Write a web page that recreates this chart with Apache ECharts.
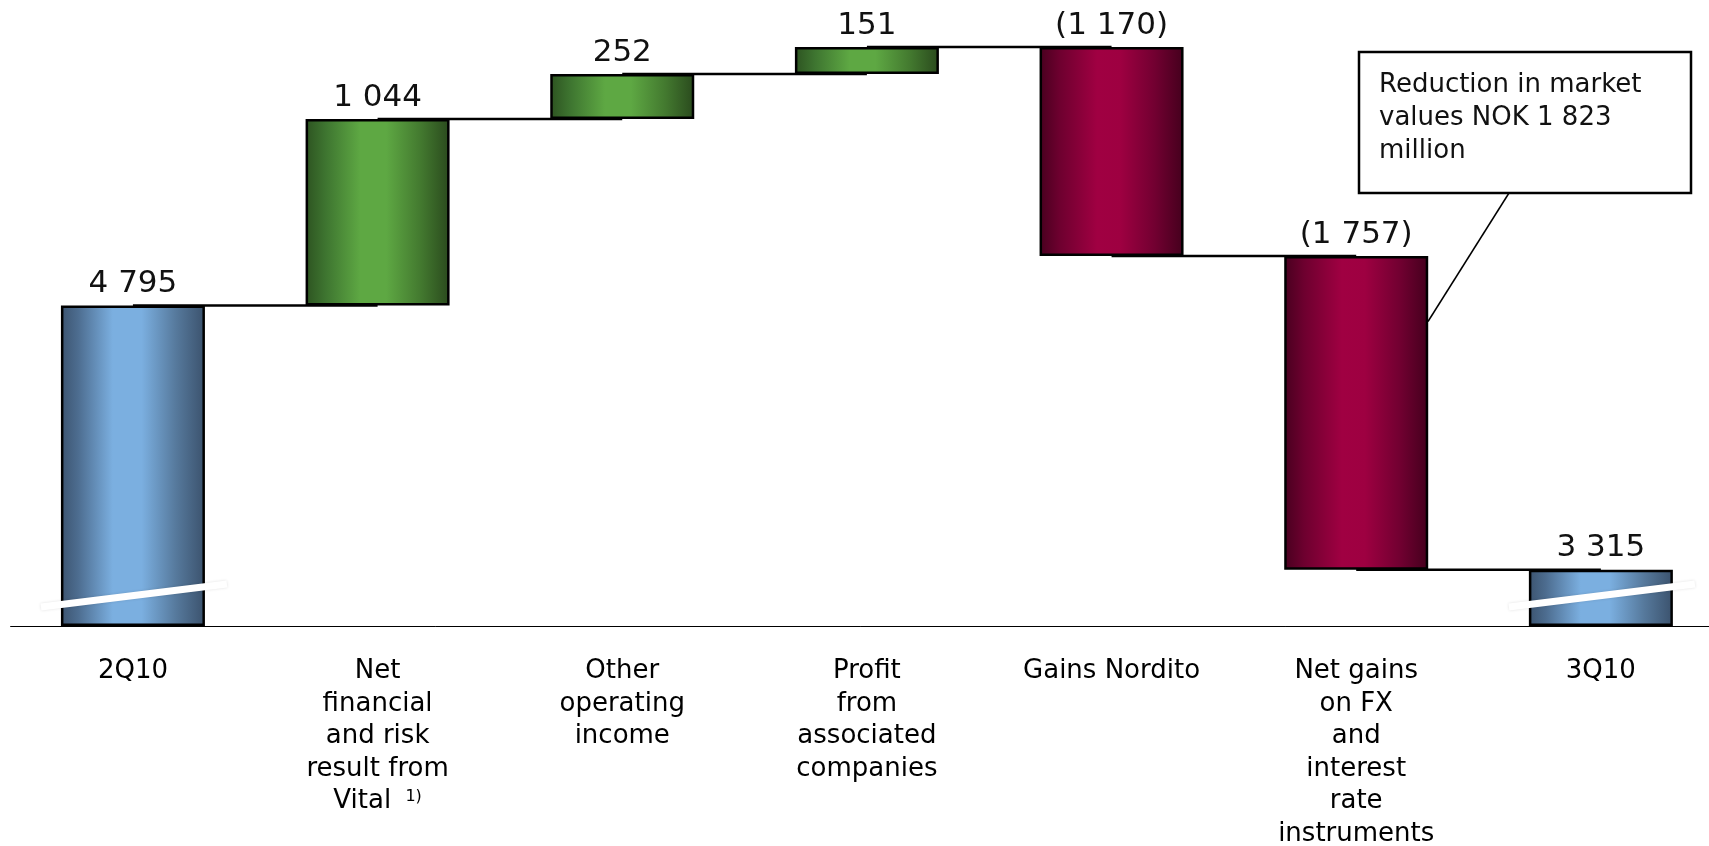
<!DOCTYPE html>
<html>
<head>
<meta charset="utf-8">
<script src="https://cdn.jsdelivr.net/npm/echarts@6/dist/echarts.min.js"></script>
<style>
html,body{margin:0;padding:0;background:#fff;}
#chart{width:1709px;height:846px;}
</style>
</head>
<body>
<div id="chart"></div>
<script>
// ---- data ----
const categories = ['2Q10', 'Net\nfinancial\nand risk\nresult from\nVital {sup|1)}', 'Other\noperating\nincome', 'Profit\nfrom\nassociated\ncompanies', 'Gains Nordito', 'Net gains\non FX\nand\ninterest\nrate\ninstruments', '3Q10'];
const deltas = [4795, 1044, 252, 151, -1170, -1757, 3315];
const kinds = ['total', 'up', 'up', 'up', 'down', 'down', 'total'];
const noteLines = ['Reduction in market', 'values NOK 1 823', 'million'];

// ---- layout / style constants ----
const Y_MIN = 3000, Y_MAX = 6500;
const BAR_W = 144;
const FONT = 'DejaVu Sans, Verdana, sans-serif';

function grad(stops) {
  return { type: 'linear', x: 0, y: 0, x2: 1, y2: 0, colorStops: stops.map(s => ({ offset: s[0], color: s[1] })) };
}
const fills = {
  total: grad([[0, '#3c5470'], [0.12, '#4d6d90'], [0.36, '#7bafe0'], [0.56, '#7bafe0'], [0.8, '#56799c'], [1, '#3b526d']]),
  up: grad([[0, '#2d5321'], [0.14, '#3e7530'], [0.38, '#5ea843'], [0.56, '#5ea843'], [0.8, '#43792f'], [1, '#2a4a1d']]),
  down: grad([[0, '#48001f'], [0.14, '#6e002f'], [0.4, '#a00042'], [0.56, '#9e0041'], [0.8, '#720031'], [1, '#44001d']])
};

// derived waterfall geometry (from values)
const low = [], high = [], levels = [];
let run = 0;
deltas.forEach((d, i) => {
  if (kinds[i] === 'total') {
    run = d; low.push(Y_MIN); high.push(d);
  } else {
    const next = run + d;
    low.push(Math.min(run, next)); high.push(Math.max(run, next));
    run = next;
  }
  levels.push(run);
});
const baseData = low;
const visData = deltas.map((d, i) => ({ value: high[i] - low[i], itemStyle: { color: fills[kinds[i]] } }));

function fmt(v) {
  const s = String(Math.abs(v)).replace(/\B(?=(\d{3})+(?!\d))/g, ' ');
  return v < 0 ? '(' + s + ')' : s;
}

const chart = echarts.init(document.getElementById('chart'), null, { renderer: 'canvas' });
const option = {
  animation: false,
  backgroundColor: '#fff',
  grid: { left: 10.6, width: 1712.6, top: 1, bottom: 220, containLabel: false, outerBoundsMode: 'none' },
  xAxis: {
    type: 'category',
    data: categories,
    axisLine: { lineStyle: { color: '#000', width: 1 } },
    axisTick: { show: false },
    axisLabel: {
      interval: 0, margin: 29, color: '#000', fontFamily: FONT, fontSize: 26, lineHeight: 32.6,
      rich: { sup: { fontSize: 16, fontFamily: FONT, color: '#000', lineHeight: 32.6, padding: [0, 0, 10, 6] } }
    }
  },
  yAxis: { type: 'value', min: Y_MIN, max: Y_MAX, show: false, splitLine: { show: false } },
  series: [
    {
      type: 'custom', z: 1,
      data: levels.slice(0, -1).map((v, i) => [i, v]),
      renderItem: function (params, api) {
        const i = api.value(0), v = api.value(1);
        const a = api.coord([i, v]), b = api.coord([i + 1, v]);
        return { type: 'line', shape: { x1: a[0], y1: a[1], x2: b[0], y2: b[1] }, style: { stroke: '#000', lineWidth: 2.5 } };
      }
    },
    {
      type: 'bar', stack: 'w', barWidth: BAR_W, z: 2,
      itemStyle: { color: 'rgba(0,0,0,0)' },
      data: baseData, silent: true
    },
    {
      type: 'bar', stack: 'w', barWidth: BAR_W, z: 3,
      itemStyle: { borderColor: '#000', borderWidth: 2.5 },
      data: visData,
      label: {
        show: true, position: 'top', distance: 6, color: '#111', fontFamily: FONT, fontSize: 31,
        formatter: p => fmt(deltas[p.dataIndex])
      }
    },
    {
      type: 'custom', z: 4,
      data: kinds.map((k, i) => [i, Y_MIN]).filter((d, i) => kinds[i] === 'total'),
      renderItem: function (params, api) {
        const c = api.coord([api.value(0), api.value(1)]);
        return {
          type: 'line',
          shape: { x1: c[0] - BAR_W / 2 - 20, y1: c[1] - 19, x2: c[0] + BAR_W / 2 + 22, y2: c[1] - 42 },
          style: { stroke: '#fff', lineWidth: 7, shadowColor: 'rgba(0,0,0,0.12)', shadowBlur: 3 }
        };
      }
    }
  ],
  graphic: [
    { type: 'line', z: 10, shape: { x1: 1509, y1: 193, x2: 1428, y2: 321.5 }, style: { stroke: '#000', lineWidth: 1.5 } },
    { type: 'rect', z: 10, shape: { x: 1359, y: 52, width: 332, height: 141 }, style: { fill: '#fff', stroke: '#000', lineWidth: 2.5 } },
    { type: 'text', z: 11, left: 1379, top: 69, style: { text: noteLines.join('\n'), fill: '#111', font: '26px ' + FONT, lineHeight: 33 } }
  ]
};
chart.setOption(option);
</script>
</body>
</html>
